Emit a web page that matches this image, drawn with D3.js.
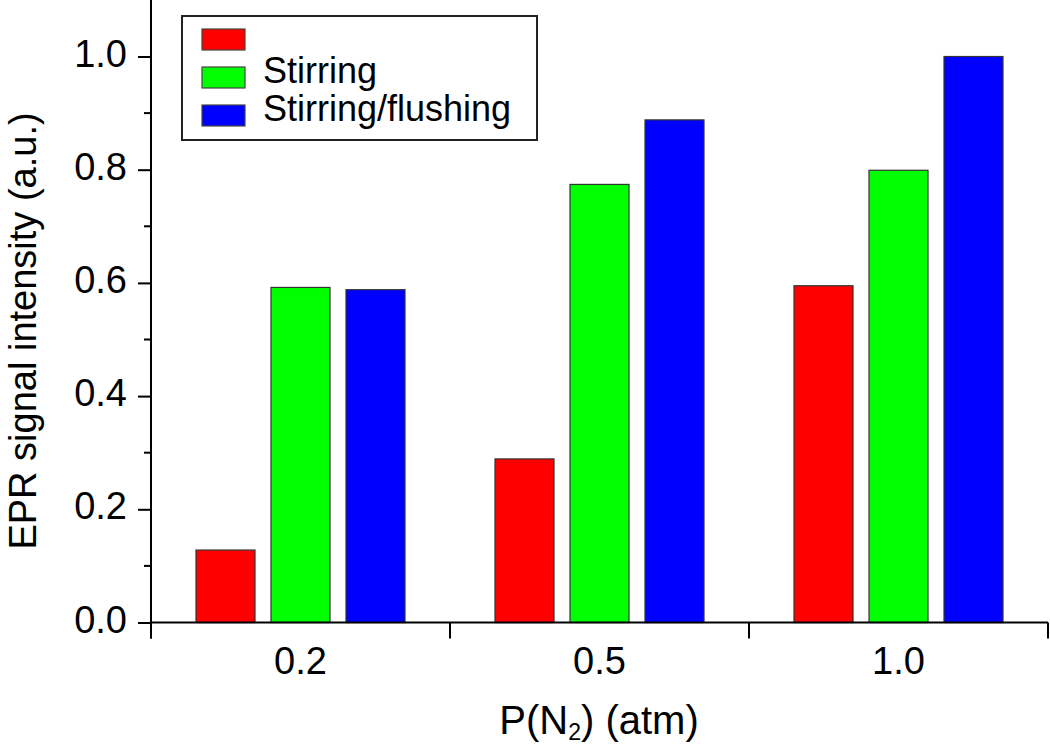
<!DOCTYPE html>
<html><head><meta charset="utf-8">
<script src="https://cdn.jsdelivr.net/npm/d3@7"></script>
<style>body{margin:0;background:#fff}svg{display:block}</style>
</head><body>
<script>
const categories = ["0.2", "0.5", "1.0"];
const seriesNames = ["", "Stirring", "Stirring/flushing"];
const seriesColors = ["#ff0000", "#00ff00", "#0000ff"];
const redValues = [0.128, 0.289, 0.595];
const greenValues = [0.592, 0.774, 0.799];
const blueValues = [0.588, 0.888, 1.0];
const yTickValues = [0.0, 0.2, 0.4, 0.6, 0.8, 1.0];

const W = 1050, H = 745;
const m = {left: 151, right: 2};
const svg = d3.select("body").append("svg").attr("width", W).attr("height", H);
const font = "'Liberation Sans', Arial, sans-serif";

const x0 = d3.scaleBand().domain(categories).range([m.left, W - m.right]).padding(0);
const y = d3.scaleLinear().domain([0, 1.1]).range([622.5, 622.5 - 566 * 1.1]);

const series = [redValues, greenValues, blueValues];
const barW = 59, step = 75;

categories.forEach((c, ci) => {
  const cx = x0(c) + x0.bandwidth() / 2;
  series.forEach((vals, si) => {
    const bx = cx + (si - 1) * step - barW / 2;
    svg.append("rect")
      .attr("x", bx).attr("y", y(vals[ci]))
      .attr("width", barW).attr("height", y(0) - y(vals[ci]))
      .attr("fill", seriesColors[si]).attr("stroke", "#333").attr("stroke-width", 1.2);
  });
});

// Y axis
const yAxis = d3.axisLeft(y).tickValues(yTickValues).tickFormat(d3.format(".1f")).tickSize(13).tickPadding(11);
const gy = svg.append("g").attr("transform", `translate(${m.left},0)`).call(yAxis);
gy.select(".domain").remove();
gy.selectAll(".tick line").attr("stroke", "#000").attr("stroke-width", 2);
gy.selectAll(".tick text").attr("font-family", font).attr("font-size", 38).attr("fill", "#000").attr("dy", "0.25em");
// minor ticks
const minor = d3.range(0.1, 1.1, 0.2);
svg.append("g").selectAll("line").data(minor).join("line")
  .attr("x1", m.left - 7).attr("x2", m.left).attr("y1", d => y(d)).attr("y2", d => y(d))
  .attr("stroke", "#000").attr("stroke-width", 2);
svg.append("line").attr("x1", m.left).attr("x2", m.left).attr("y1", 0).attr("y2", y(0) + 16)
  .attr("stroke", "#000").attr("stroke-width", 2);

// X axis
svg.append("line").attr("x1", m.left).attr("x2", W - m.right).attr("y1", y(0)).attr("y2", y(0))
  .attr("stroke", "#000").attr("stroke-width", 2);
const bounds = categories.map(c => x0(c)).concat([x0(categories[categories.length - 1]) + x0.bandwidth()]);
svg.append("g").selectAll("line").data(bounds).join("line")
  .attr("x1", d => d).attr("x2", d => d).attr("y1", y(0)).attr("y2", y(0) + 16)
  .attr("stroke", "#000").attr("stroke-width", 2);
svg.append("g").selectAll("text").data(categories).join("text")
  .attr("x", d => x0(d) + x0.bandwidth() / 2).attr("y", 674)
  .attr("text-anchor", "middle").attr("font-family", font).attr("font-size", 38).text(d => d);

// Axis titles
const xt = svg.append("text").attr("x", 599).attr("y", 734).attr("text-anchor", "middle")
  .attr("font-family", font).attr("font-size", 40);
xt.append("tspan").text("P(N");
xt.append("tspan").attr("font-size", 23).attr("dy", 6).text("2");
xt.append("tspan").attr("dy", -6).text(") (atm)");
svg.append("text").attr("transform", `translate(36,331) rotate(-90)`).attr("text-anchor", "middle")
  .attr("font-family", font).attr("font-size", 38).text("EPR signal intensity (a.u.)");

// Legend
const lg = svg.append("g");
lg.append("rect").attr("x", 182).attr("y", 16).attr("width", 355).attr("height", 124)
  .attr("fill", "#fff").attr("stroke", "#222").attr("stroke-width", 2);
seriesNames.forEach((n, i) => {
  const ly = 29 + i * 38;
  lg.append("rect").attr("x", 202).attr("y", ly).attr("width", 43).attr("height", 21)
    .attr("fill", seriesColors[i]).attr("stroke", "#444").attr("stroke-width", 1.2);
  lg.append("text").attr("x", 263).attr("y", ly + 16).attr("font-family", font).attr("font-size", 36).text(n);
});
</script>
</body></html>
